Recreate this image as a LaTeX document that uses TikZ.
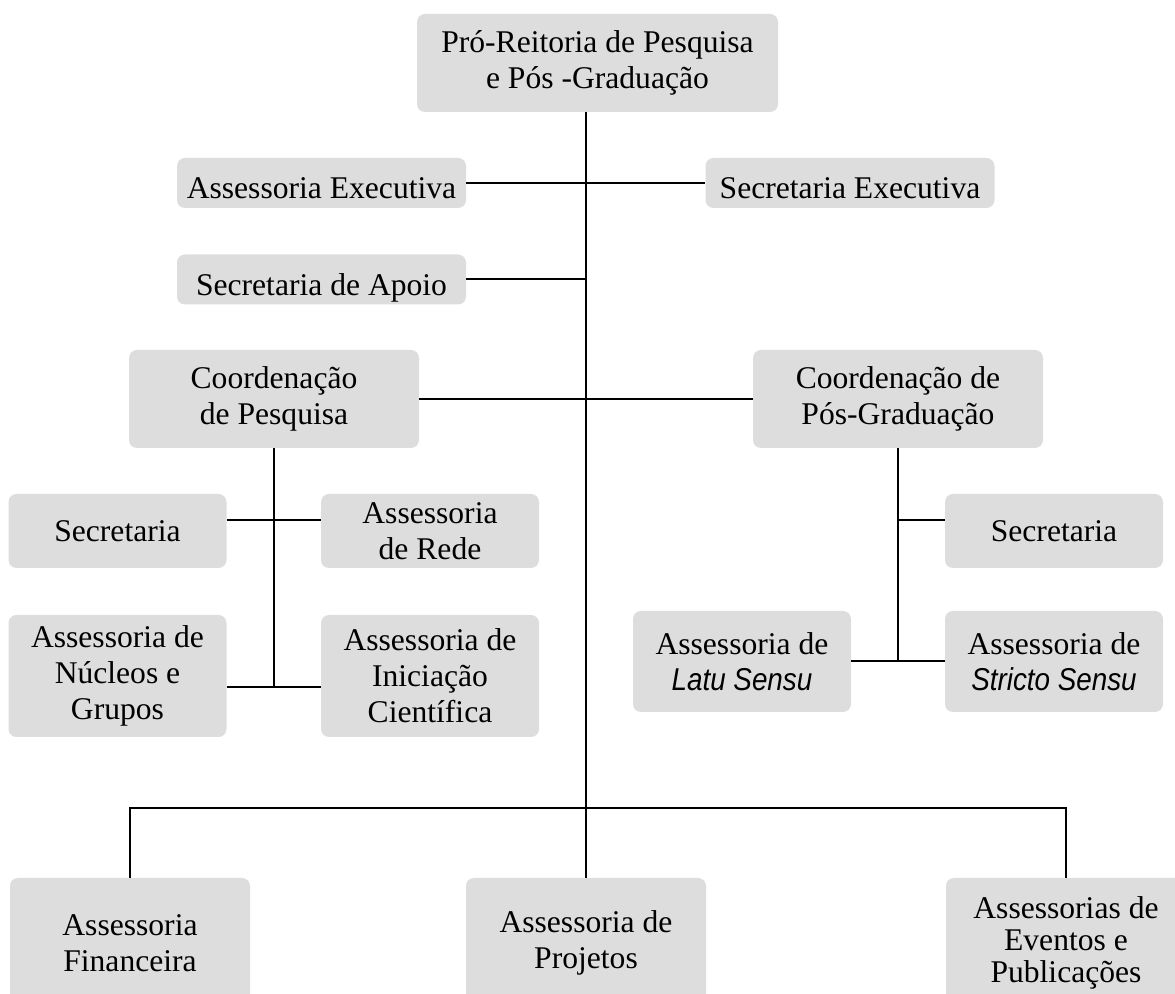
\documentclass[tikz,border=0pt]{standalone}
\usepackage{fontspec}
\setmainfont{Liberation Serif}
\newfontfamily\narrowsans[FakeStretch=0.88]{Liberation Sans}
\usepackage{tikz}
\usepackage{xcolor}
\definecolor{boxgray}{RGB}{221,221,221}

\begin{document}
\begin{tikzpicture}[x=0.5pt, y=-0.5pt,
    greybox/.style={fill=boxgray, rounded corners=4pt, inner sep=0pt, align=center, font=\fontsize{15.8}{18}\selectfont},
    widebox/.style={greybox, minimum width=144.5pt, minimum height=25pt, text height=16pt, text depth=0pt},
    coordbox/.style={greybox, minimum width=145pt, minimum height=49pt},
    smallbox/.style={greybox, minimum width=109pt, minimum height=37pt},
    tallbox/.style={greybox, minimum width=109pt, minimum height=61pt},
    sensubox/.style={greybox, minimum width=109pt, minimum height=50.5pt},
    basebox/.style={greybox, minimum width=120pt, minimum height=65pt},
    link/.style={line width=1pt}]
            \clip (0,0) rectangle (1175,994);

            \node[greybox, minimum width=180.5pt, minimum height=49pt] (PRP) at (597.5,63) {Pr\'o-Reitoria de Pesquisa\\e P\'os -Gradua\c{c}\~ao};
            \node[widebox] (AE) at (321.5,183) {Assessoria Executiva};
            \node[widebox] (SE) at (850,183) {Secretaria Executiva};
            \node[widebox] (SA) at (321.5,279.5) {Secretaria de Apoio};
            \node[coordbox] (CP) at (274,399) {Coordena\c{c}\~ao\\de Pesquisa};
            \node[coordbox] (CG) at (898,399) {Coordena\c{c}\~ao de\\P\'os-Gradua\c{c}\~ao};

            \node[smallbox] (S1) at (117.5,531) {Secretaria};
            \node[smallbox] (AR) at (430,531) {Assessoria\\de Rede};
            \node[tallbox] (AN) at (117.5,676) {Assessoria de\\N\'ucleos e\\Grupos};
            \node[tallbox] (AI) at (430,676) {Assessoria de\\Inicia\c{c}\~ao\\Cient\'ifica};

            \node[smallbox] (S2) at (1054,531) {Secretaria};
            \node[sensubox] (AL) at (742,661.5) {Assessoria de\\{\narrowsans\itshape Latu Sensu}};
            \node[sensubox] (AS) at (1054,661.5) {Assessoria de\\{\narrowsans\itshape Stricto Sensu}};

            \node[basebox] (AF) at (130,943) {Assessoria\\Financeira};
            \node[basebox] (AP) at (586,943) {Assessoria de\\Projetos};
            \node[basebox, font=\fontsize{15.8}{16}\selectfont] (EP) at (1066,943) {Assessorias de\\Eventos e\\Publica\c{c}\~oes};

            \coordinate (bar) at (586,808);

            % main line
            \draw[link] (AP.north |- PRP.south) -- (AP.north);
            \draw[link] (AE) -- (SE);
            \draw[link] (SA.east) -- (SA.east -| AP.north);
            \draw[link] (CP) -- (CG);

            % research side
            \draw[link] (CP.south) -- ([yshift=-5.5pt]AN.east -| CP.south);
            \draw[link] ([yshift=5.5pt]S1.east) -- ([yshift=5.5pt]AR.west);
            \draw[link] ([yshift=-5.5pt]AN.east) -- ([yshift=-5.5pt]AI.west);

            % graduate side
            \draw[link] (CG.south) -- (AL.east -| CG.south);
            \draw[link] ([yshift=5.5pt]S2.west) -- ([yshift=5.5pt]S2.west -| CG.south);
            \draw[link] (AL) -- (AS);

            % bottom row
            \draw[link] (AF.north) -- (AF.north |- bar) -- (EP.north |- bar) -- (EP.north);

        \end{tikzpicture}
\end{document}
